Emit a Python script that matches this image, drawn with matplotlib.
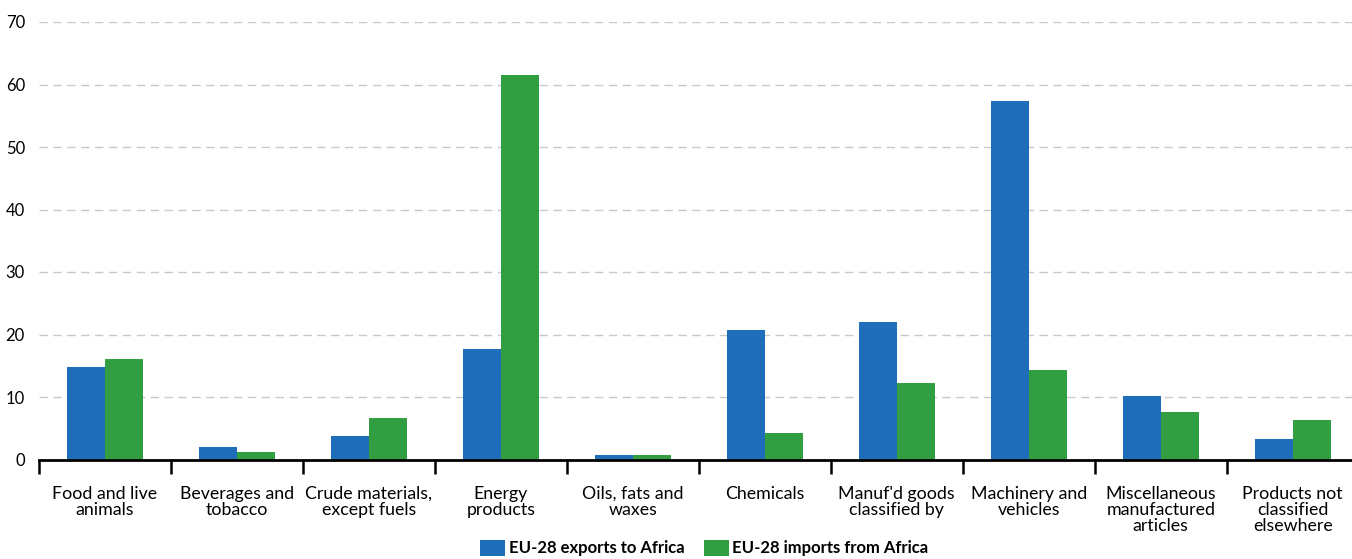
import numpy as np
import matplotlib.pyplot as plt

categories = ["Food and live\nanimals", "Beverages and\ntobacco", "Crude materials,\nexcept fuels",
              "Energy\nproducts", "Oils, fats and\nwaxes", "Chemicals", "Manuf'd goods\nclassified by",
              "Machinery and\nvehicles", "Miscellaneous\nmanufactured\narticles",
              "Products not\nclassified\nelsewhere"]
exports = [14.8, 2.0, 3.8, 17.7, 0.8, 20.8, 22.0, 57.4, 10.2, 3.3]
imports = [16.1, 1.2, 6.7, 61.6, 0.8, 4.3, 12.3, 14.3, 7.6, 6.3]
series_labels = ["EU-28 exports to Africa", "EU-28 imports from Africa"]

blue = "#1f6eb9"
green = "#309e41"

plt.rcParams['font.family'] = ['Lato', 'DejaVu Sans']

fig = plt.figure(figsize=(13.52, 5.59), dpi=100)
ax = fig.add_axes([38.8 / 1352, 99.5 / 559, 1320 / 1352, 437.5 / 559])

x = np.arange(len(categories))
w = 0.288
ax.bar(x - w / 2, exports, w, color=blue, label=series_labels[0], zorder=3)
ax.bar(x + w / 2, imports, w, color=green, label=series_labels[1], zorder=3)

ax.set_xlim(-0.5, len(categories) - 0.5)
ax.set_ylim(0, 70)
ax.set_yticks(range(0, 71, 10))
ax.yaxis.grid(True, color="#c8c8c8", linestyle=(0, (6, 4)), linewidth=1, zorder=0)
ax.tick_params(axis='y', length=0, pad=10, labelsize=12)

ax.set_xticks(x)
ax.set_xticklabels(categories, fontsize=12.8, linespacing=1.02)
ax.tick_params(axis='x', which='major', length=0, pad=19)
ax.set_xticks(np.arange(-0.5, len(categories)), minor=True)
ax.tick_params(axis='x', which='minor', length=10, width=1.8, color='black', direction='out')

for s in ['top', 'right', 'left']:
    ax.spines[s].set_visible(False)
ax.spines['bottom'].set_linewidth(2)
ax.spines['bottom'].set_zorder(4)

leg = fig.legend(loc='lower center', bbox_to_anchor=(0.521, -0.022), ncol=2, frameon=False,
                 handlelength=1.5, handleheight=1.1, handletextpad=0.2, columnspacing=1.2,
                 prop={'weight': 'bold', 'size': 12})

fig.savefig("out.png", dpi=100)
